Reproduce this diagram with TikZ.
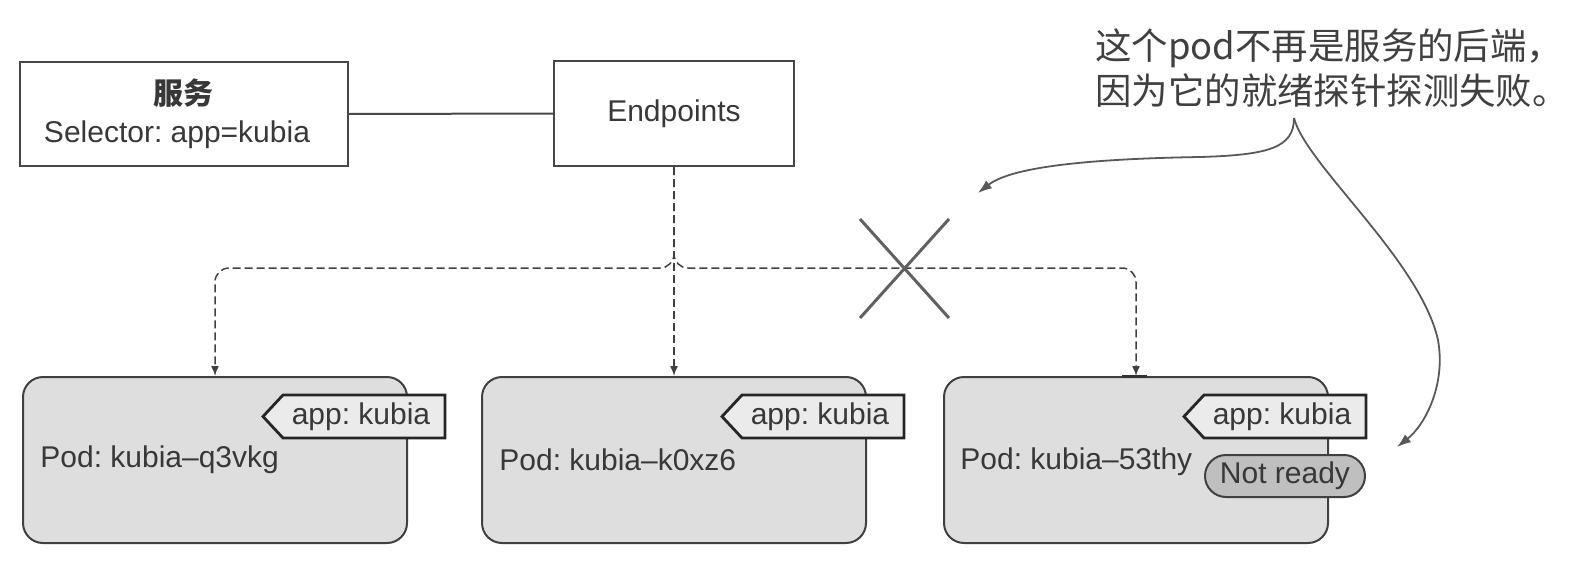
\documentclass[tikz,border=0pt]{standalone}
\usepackage{fontspec}
\setmainfont{Liberation Sans}
\newfontfamily\cjk{Noto Sans CJK SC}
\usetikzlibrary{arrows.meta,calc}
\frenchspacing
\begin{document}
\begin{tikzpicture}[x=0.5pt,y=-0.5pt,
  txt/.style={text=black!78, font=\fontsize{15pt}{18pt}\selectfont},
  box/.style={draw=black!72, line width=1.2pt, fill=white, inner sep=0pt, txt},
  pod/.style={draw=black!75, line width=1pt, fill=black!13, rounded corners=10pt, minimum width=192pt, minimum height=83pt, inner sep=0pt},
  tagline/.style={draw=black!85, line width=1.4pt, fill=black!8},
  ready/.style={draw=black!75, line width=1pt, fill=black!25, rounded corners=10.5pt, minimum width=80pt, minimum height=21pt, inner sep=0pt, txt},
  link/.style={draw=black!75, line width=0.75pt, dash pattern=on 4pt off 2pt, rounded corners=7pt},
  tipped/.style={-{Latex[length=5pt,width=4pt]}},
  notearrow/.style={draw=black!65, line width=0.9pt, -{Latex[length=7pt,width=5pt]}},
  cross/.style={draw=black!62, line width=1.5pt},
  notetext/.style={text=black!75, font=\cjk\fontsize{18.2pt}{22.5pt}\selectfont, align=left, inner sep=0pt},
]
\useasboundingbox (0,0) rectangle (1586,562);

% top boxes
\node[box, minimum width=164pt, minimum height=52pt, align=center] (svc) at (184,114)
  {{\cjk\bfseries 服务}\\[1pt]Selector: app=kubia\hspace*{7pt}};
\node[box, minimum width=120pt, minimum height=52.5pt] (ep) at (674,113.5) {Endpoints};
\draw[draw=black!72, line width=1pt] (svc.east) -- (ep.west);

% pods
\node[pod] (p1) at (215,460) {};
\node[pod] (p2) at (674,460) {};
\node[pod] (p3) at (1136,460) {};

\foreach \p in {p1,p2,p3} {
  \draw[tagline] ($(\p)+(48,-43.5)$) -- ($(\p)+(68,-65)$) -- ($(\p)+(230,-65)$)
     -- ($(\p)+(230,-22)$) -- ($(\p)+(68,-22)$) -- cycle;
  \node[txt, inner sep=0pt] (\p-tag) at ($(\p)+(146,-43.5)$) {app: kubia};
}
\node[txt, anchor=west, inner sep=0pt] (p1-name) at ($(p1)+(-175,0)$) {Pod: kubia–q3vkg};
\node[txt, anchor=west, inner sep=0pt] (p2-name) at ($(p2)+(-175,0)$) {Pod: kubia–k0xz6};
\node[txt, anchor=west, inner sep=0pt] (p3-name) at ($(p3)+(-176,2)$) {Pod: kubia–53thy};
\node[ready] (nr) at ($(p3)+(149,16)$) {Not ready};

% dashed connectors
\coordinate (j) at (674,268);
\draw[link, tipped] (ep.south) -- (j) -- (j -| p1.north) -- (p1.north);
\draw[link, tipped] (ep.south) -- (p2.north);
\draw[link, tipped] (ep.south) -- (j) -- (j -| p3.north) -- (p3.north);
\draw[draw=black!80, line width=1.5pt] ([xshift=-7pt]p3.north) -- ([xshift=5.5pt]p3.north);

% cross
\coordinate (xc) at (904.5,268);
\draw[cross] ($(xc)+(-44.5,-49)$) -- ($(xc)+(44.5,50)$);
\draw[cross] ($(xc)+(44.5,-49)$) -- ($(xc)+(-44.5,50)$);

% annotation
\node[notetext, anchor=north west] (note) at (1095,28)
  {这个pod不再是服务的后端，\\因为它的就绪探针探测失败。};
\coordinate (br) at (1294,118);
\coordinate (a1) at (978,193);
\coordinate (a2) at (1397,447);
\draw[notearrow] (br) .. controls (1294,148) and (1268,155) .. (1200,157)
   .. controls (1080,159) and (1010,168) .. (a1);
\draw[notearrow] (br) .. controls (1306,165) and (1420,260) .. (1438,340)
   .. controls (1446,385) and (1425,425) .. (a2);
\end{tikzpicture}
\end{document}
